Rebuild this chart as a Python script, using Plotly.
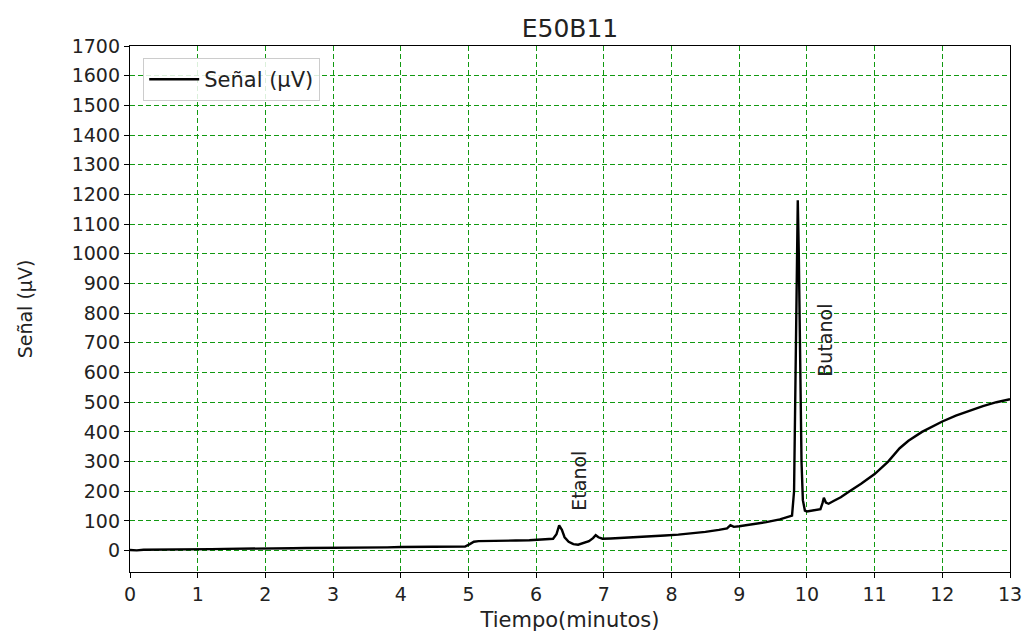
import plotly.graph_objects as go

# Chromatogram E50B11: detector signal (µV) vs. retention time (min)
tiempo = [
    0.00, 0.10, 0.20, 0.40, 0.60, 0.80, 1.00, 1.20, 1.40, 1.60, 1.80, 2.00,
    2.20, 2.40, 2.60, 2.80, 3.00, 3.20, 3.40, 3.60, 3.80, 4.00, 4.20, 4.40,
    4.60, 4.80, 4.95, 5.02, 5.08, 5.15, 5.30, 5.50, 5.70, 5.90, 6.10, 6.25,
    6.30, 6.34, 6.38, 6.42, 6.48, 6.55, 6.62, 6.70, 6.78, 6.84, 6.88, 6.92,
    6.98, 7.10, 7.30, 7.50, 7.70, 7.90, 8.10, 8.30, 8.50, 8.70, 8.82, 8.87,
    8.92, 9.00, 9.20, 9.40, 9.60, 9.72, 9.78, 9.81, 9.83, 9.85, 9.865, 9.88,
    9.90, 9.92, 9.94, 9.97, 10.00, 10.10, 10.20, 10.23, 10.25, 10.28, 10.32,
    10.40, 10.50, 10.63, 10.80, 11.00, 11.20, 11.37, 11.50, 11.70, 11.90,
    12.00, 12.20, 12.40, 12.60, 12.80, 12.90, 13.00,
]
senal = [
    2, 1, 3, 3, 4, 4, 5, 5, 6, 6, 7, 7,
    8, 8, 9, 9, 10, 10, 10, 11, 11, 12, 12, 12,
    13, 13, 14, 22, 30, 32, 32, 33, 34, 35, 37, 40,
    55, 85, 70, 45, 30, 22, 20, 25, 32, 42, 52, 45,
    40, 41, 43, 45, 48, 51, 54, 58, 63, 70, 75, 86,
    80, 82, 88, 96, 105, 112, 118, 200, 600, 1100, 1180, 1000,
    600, 300, 170, 135, 132, 135, 140, 160, 178, 162, 158,
    168, 180, 200, 225, 258, 300, 345, 370, 400, 425,
    435, 455, 472, 487, 500, 506, 510,
]

# Peak labels
picos = ["Etanol", "Butanol"]
picos_t = [6.62, 10.27]
picos_y = [236, 708]

x_ticks = list(range(0, 14))
y_ticks = list(range(0, 1701, 100))

FONT = "DejaVu Sans"
INK = "#222222"
GRID = "#119911"

fig = go.Figure()
fig.add_trace(go.Scatter(
    x=tiempo, y=senal, mode="lines", name="Señal (µV)",
    line=dict(color="black", width=2.4),
))

for nombre, tx, ty in zip(picos, picos_t, picos_y):
    fig.add_annotation(
        x=tx, y=ty, text=nombre, textangle=-90, showarrow=False,
        font=dict(family=FONT, size=19, color=INK),
    )

axis_common = dict(
    showline=True, linecolor="black", linewidth=1.3, mirror=True,
    ticks="outside", ticklen=5, tickwidth=1.2, tickcolor="black",
    showgrid=True, gridcolor=GRID, gridwidth=1, griddash="5px,3px",
    zeroline=False, automargin=False,
)

fig.update_layout(
    width=1026, height=632,
    margin=dict(l=130, r=16, t=46, b=60),
    paper_bgcolor="white", plot_bgcolor="white",
    title=dict(
        text="E50B11", x=(130 + 1010) / 2 / 1026, xanchor="center",
        y=1 - 28 / 632, yanchor="middle", yref="container",
        font=dict(family=FONT, size=25, color=INK),
    ),
    xaxis=dict(
        range=[0, 13], tickvals=x_ticks,
        tickfont=dict(family=FONT, size=19, color=INK),
        title=dict(text="Tiempo(minutos)", standoff=12,
                   font=dict(family=FONT, size=21, color=INK)),
        **axis_common,
    ),
    yaxis=dict(
        range=[-72, 1700], tickvals=y_ticks,
        tickfont=dict(family=FONT, size=19, color=INK),
        title=dict(text="Señal (µV)", standoff=34,
                   font=dict(family=FONT, size=19, color=INK)),
        **axis_common,
    ),
    showlegend=True,
    legend=dict(
        x=0.015, y=0.977, xanchor="left", yanchor="top",
        bgcolor="rgba(255,255,255,0.85)", bordercolor="#cccccc", borderwidth=1,
        font=dict(family=FONT, size=21, color=INK), itemwidth=50,
    ),
)

fig.write_html("out.html")
